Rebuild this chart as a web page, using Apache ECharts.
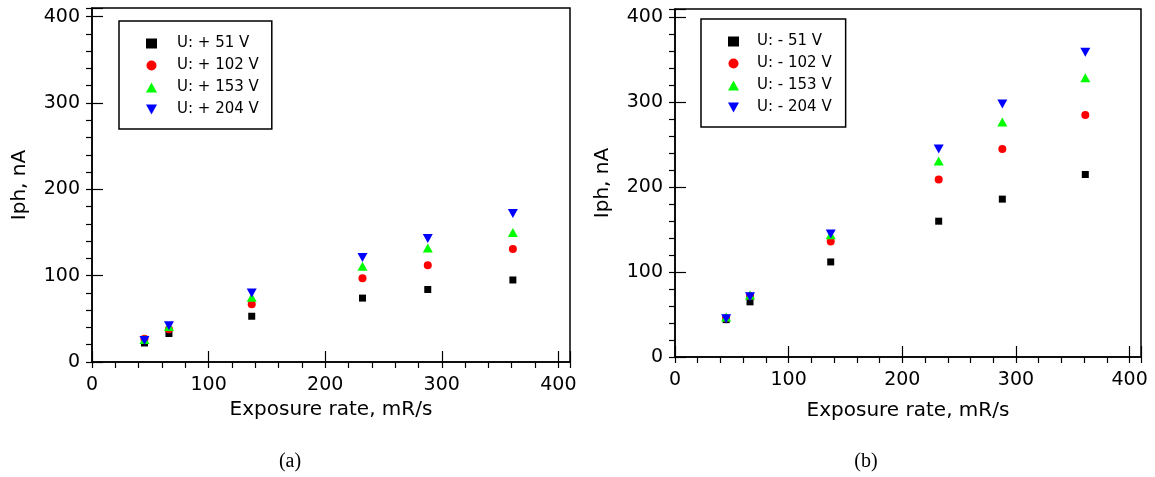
<!DOCTYPE html>
<html>
<head>
<meta charset="utf-8">
<script src="https://cdn.jsdelivr.net/npm/echarts@6/dist/echarts.min.js"></script>
<style>
  html, body { margin: 0; padding: 0; background: #fff; }
  #chart { width: 1155px; height: 477px; }
</style>
</head>
<body>
<div id="chart"></div>
<script>
// exposure rate, mR/s
var exposureRate = [45, 66, 137, 232, 288, 361];

// (a) positive bias, Iph nA
var posU51  = [22, 33, 53, 74, 84, 95];
var posU102 = [27, 38, 67, 97, 112, 131];
var posU153 = [26, 41, 75, 111, 132, 150];
var posU204 = [25, 42, 80, 121, 143, 172];

// (b) negative bias, Iph nA
var negU51  = [44, 65, 112, 160, 186, 215];
var negU102 = [46, 72, 136, 209, 245, 285];
var negU153 = [47, 73, 144, 231, 277, 329];
var negU204 = [45, 71, 145, 245, 298, 359];

var posNames = ['U: + 51 V', 'U: + 102 V', 'U: + 153 V', 'U: + 204 V'];
var negNames = ['U: - 51 V', 'U: - 102 V', 'U: - 153 V', 'U: - 204 V'];
var majorTicks = [0, 100, 200, 300, 400];

var font = 'DejaVu Sans';

function pairs(ys) {
    return exposureRate.map(function (x, i) { return [x, ys[i]]; });
}

var markers = [
    { symbol: 'rect', size: 7, rotate: 0, color: '#000000', icon: 'rect' },
    { symbol: 'circle', size: 8, rotate: 0, color: '#ff0000', icon: 'circle' },
    { symbol: 'triangle', size: [10, 9], rotate: 0, color: '#00ff00', icon: 'triangle' },
    { symbol: 'triangle', size: [10, 9], rotate: 180, color: '#0000ff', icon: 'path://M0,0L10,0L5,9Z' }
];

function majorAxis(grid, isX, gap) {
    return {
        type: 'value', gridIndex: grid, min: 0, max: 410, interval: 100,
        name: isX ? 'Exposure rate, mR/s' : 'Iph, nA',
        nameLocation: 'middle', nameGap: gap,
        nameTextStyle: { fontFamily: font, fontSize: 20, color: '#000' },
        axisLine: { show: true, lineStyle: { color: '#000', width: 1.5 } },
        axisTick: { show: true, inside: true, length: 11, lineStyle: { color: '#000', width: 1.2 } },
        axisLabel: {
            fontFamily: font, fontSize: 19, color: '#000', margin: isX ? 14 : 12,
            formatter: function (v) { return majorTicks.indexOf(v) >= 0 ? String(v) : ''; }
        },
        splitLine: { show: false }
    };
}

function minorAxis(grid) {
    return {
        type: 'value', gridIndex: grid, min: 0, max: 410, interval: 20,
        axisLine: { show: false },
        axisTick: { show: true, inside: true, length: 6, lineStyle: { color: '#000', width: 1.2 } },
        axisLabel: { show: false },
        splitLine: { show: false }
    };
}

function makeSeries(names, lists, axisIdx) {
    return names.map(function (n, i) {
        return {
            name: n, type: 'scatter',
            xAxisIndex: axisIdx, yAxisIndex: axisIdx,
            symbol: markers[i].symbol,
            symbolSize: markers[i].size,
            symbolRotate: markers[i].rotate,
            itemStyle: { color: markers[i].color, opacity: 1 },
            data: pairs(lists[i])
        };
    });
}

function legendData(names) {
    return names.map(function (n, i) {
        return { name: n, icon: markers[i].icon };
    });
}

var legendBase = {
    orient: 'vertical',
    itemWidth: 11, itemHeight: 10, itemGap: 7,
    borderColor: '#000', borderWidth: 1.5,
    backgroundColor: '#fff',
    selectedMode: false
};

var option = {
    animation: false,
    backgroundColor: '#fff',
    grid: [
        { left: 92, top: 8, width: 478, height: 354, show: true, borderColor: '#000', borderWidth: 1.5, backgroundColor: 'transparent' },
        { left: 675, top: 9, width: 466, height: 348, show: true, borderColor: '#000', borderWidth: 1.5, backgroundColor: 'transparent' }
    ],
    xAxis: [
        majorAxis(0, true, 37), minorAxis(0),
        majorAxis(1, true, 44), minorAxis(1)
    ],
    yAxis: [
        majorAxis(0, false, 62), minorAxis(0),
        majorAxis(1, false, 62), minorAxis(1)
    ],
    legend: [
        Object.assign({}, legendBase, {
            data: legendData(posNames), left: 119, top: 21,
            padding: [15, 13, 12, 27],
            textStyle: { fontFamily: font, fontSize: 15, color: '#000', padding: [0, 0, 0, 15] }
        }),
        Object.assign({}, legendBase, {
            data: legendData(negNames), left: 701, top: 19,
            padding: [15, 14, 12, 27],
            textStyle: { fontFamily: font, fontSize: 15, color: '#000', padding: [0, 0, 0, 13] }
        })
    ],
    graphic: [
        { type: 'text', x: 290, y: 462, style: { text: '(a)', font: '20px "Liberation Serif"', fill: '#000', align: 'center', verticalAlign: 'middle' } },
        { type: 'text', x: 866, y: 462, style: { text: '(b)', font: '20px "Liberation Serif"', fill: '#000', align: 'center', verticalAlign: 'middle' } }
    ],
    series: makeSeries(posNames, [posU51, posU102, posU153, posU204], 0)
        .concat(makeSeries(negNames, [negU51, negU102, negU153, negU204], 2))
};

var myChart = echarts.init(document.getElementById('chart'));
myChart.setOption(option);
</script>
</body>
</html>
